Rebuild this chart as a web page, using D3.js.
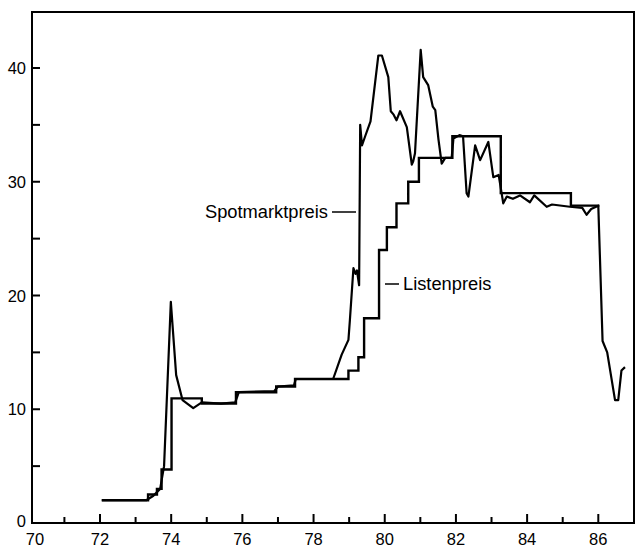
<!DOCTYPE html>
<html><head><meta charset="utf-8">
<script src="https://cdn.jsdelivr.net/npm/d3@7"></script>
<style>body{margin:0;background:#fff}svg{display:block}text{font-family:"Liberation Sans Narrow","Liberation Sans",sans-serif;fill:#000}</style>
</head><body><svg id="c" width="636" height="548"></svg>
<script>
const spotYears = [72.05,73.3,73.5,73.69,73.8,73.99,74.14,74.32,74.62,74.86,75.4,75.8,75.9,76.9,77.0,77.45,77.5,78.55,78.79,78.98,79.02,79.12,79.18,79.22,79.28,79.31,79.36,79.45,79.6,79.82,79.92,80.1,80.17,80.25,80.33,80.43,80.62,80.76,80.8,80.85,81.01,81.08,81.22,81.35,81.42,81.51,81.6,81.7,81.88,81.93,82.1,82.2,82.3,82.35,82.54,82.68,82.91,83.05,83.2,83.33,83.43,83.6,83.8,84.08,84.2,84.55,84.7,85.2,85.55,85.67,85.8,86.0,86.12,86.25,86.47,86.56,86.65,86.75];
const spotPrices = [2.0,2.0,2.4,3.0,5.0,19.45,13.0,10.8,10.1,10.6,10.5,10.6,11.5,11.6,12.0,12.1,12.66,12.66,14.8,16.1,17.8,22.4,21.9,22.2,20.9,35.0,33.2,34.0,35.3,41.1,41.1,39.2,36.2,35.9,35.4,36.2,34.8,31.5,31.8,32.5,41.6,39.2,38.5,36.6,36.3,33.7,31.6,32.1,32.1,33.8,34.1,34.0,29.0,28.7,33.2,31.9,33.5,30.4,30.6,28.1,28.7,28.5,28.8,28.2,28.8,27.8,28.0,27.8,27.7,27.1,27.6,27.9,16.0,15.0,10.8,10.8,13.4,13.7];
const listYears = [72.05,73.35,73.6,73.73,74.01,74.86,75.82,76.95,77.48,78.98,79.26,79.42,79.84,80.06,80.33,80.66,80.96,81.9,83.26,85.23,86.03];
const listPrices = [2.0,2.5,3.0,4.7,10.96,10.5,11.5,12.0,12.66,13.4,14.57,18.0,24.0,26.0,28.1,30.0,32.1,34.0,29.0,27.9,27.9];
const xTickLabels = [70,72,74,76,78,80,82,84,86];
const xMinorTicks = [71,73,75,77,79,81,83,85];
const yTickLabels = [0,10,20,30,40];
const yMinorTicks = [5,15,25,35];
const seriesLabels = ["Spotmarktpreis","Listenpreis"];

const svg = d3.select("#c");
const L=32, R=634, T=12, B=523;
const x = d3.scaleLinear().domain([72,86]).range([100,598.3]);
const y = d3.scaleLinear().domain([0,40]).range([B,68]);

svg.append("rect").attr("x",L).attr("y",T).attr("width",R-L).attr("height",B-T)
  .attr("fill","none").attr("stroke","#000").attr("stroke-width",2);

const xt = svg.append("g");
xTickLabels.filter(v=>v>70).forEach(v=>xt.append("line").attr("x1",x(v)).attr("x2",x(v)).attr("y1",B).attr("y2",B-9).attr("stroke","#000").attr("stroke-width",2));
xMinorTicks.forEach(v=>xt.append("line").attr("x1",x(v)).attr("x2",x(v)).attr("y1",B).attr("y2",B-6).attr("stroke","#000").attr("stroke-width",2));
xTickLabels.forEach(v=>xt.append("text").attr("x",Math.max(x(v),35)).attr("y",545).attr("text-anchor","middle").attr("font-size",16.5).text(v));

const yt = svg.append("g");
yTickLabels.filter(v=>v>0).concat(yMinorTicks).forEach(v=>yt.append("line").attr("x1",L).attr("x2",L+8).attr("y1",y(v)).attr("y2",y(v)).attr("stroke","#000").attr("stroke-width",2));
yTickLabels.forEach(v=>yt.append("text").attr("x",26).attr("y",Math.min(y(v),521)+6).attr("text-anchor","end").attr("font-size",16.5).text(v));

const spot = spotYears.map((t,i)=>[t,spotPrices[i]]);
const list = listYears.map((t,i)=>[t,listPrices[i]]);
svg.append("path").attr("d",d3.line().x(d=>x(d[0])).y(d=>y(d[1])).curve(d3.curveStepAfter)(list)).attr("fill","none").attr("stroke","#000").attr("stroke-width",2.4);
svg.append("path").attr("d",d3.line().x(d=>x(d[0])).y(d=>y(d[1]))(spot)).attr("fill","none").attr("stroke","#000").attr("stroke-width",2.2).attr("stroke-linejoin","round");

svg.append("text").attr("x",205).attr("y",218).attr("font-size",18.3).text(seriesLabels[0]);
svg.append("line").attr("x1",332).attr("x2",356).attr("y1",212).attr("y2",212).attr("stroke","#000").attr("stroke-width",1.5);
svg.append("text").attr("x",403).attr("y",290).attr("font-size",18.3).text(seriesLabels[1]);
svg.append("line").attr("x1",385).attr("x2",399).attr("y1",284).attr("y2",284).attr("stroke","#000").attr("stroke-width",1.5);
</script></body></html>
